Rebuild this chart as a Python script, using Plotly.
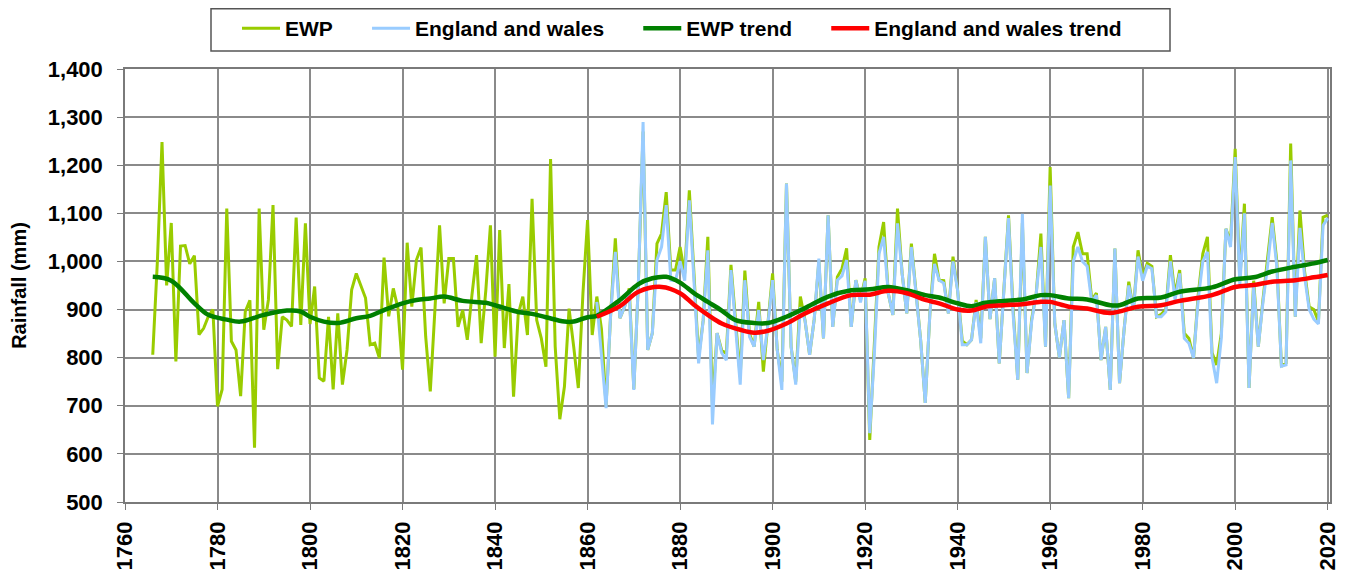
import plotly.graph_objects as go

ewp_start = 1766
ewp_values = [
    806, 1000, 1248, 950, 1080, 792, 1032, 1033, 995, 1012,   # 1766-1775
    848, 861, 885, 900, 699, 734, 1110, 834, 816, 720,        # 1776-1785
    896, 919, 613, 1110, 858, 920, 1117, 776, 885, 878,       # 1786-1795
    865, 1091, 868, 1079, 870, 948, 758, 751, 885, 734,       # 1796-1805
    892, 744, 816, 941, 975, 948, 924, 827, 830, 799,         # 1806-1815
    1008, 886, 944, 903, 775, 1039, 906, 1003, 1029, 844,     # 1816-1825
    730, 900, 1075, 913, 1006, 1006, 864, 899, 837, 930,      # 1826-1835
    1013, 830, 940, 1075, 802, 1065, 820, 953, 719, 890,      # 1836-1845
    927, 847, 1130, 878, 840, 781, 1213, 823, 672, 740,       # 1846-1855
    902, 823, 737, 934, 1086, 847, 927, 860, 700, 892,        # 1856-1865
    1048, 882, 906, 944, 735, 960, 1270, 816, 851, 1037,      # 1866-1875
    1058, 1144, 982, 982, 1030, 975, 1148, 975, 800, 878,     # 1876-1885
    1051, 700, 851, 815, 809, 993, 880, 760, 981, 850,        # 1886-1895
    823, 916, 771, 880, 975, 816, 750, 1162, 823, 750,        # 1896-1905
    927, 878, 806, 880, 1000, 840, 1096, 864, 968, 985,       # 1906-1915
    1027, 864, 961, 920, 965, 629, 815, 1030, 1082, 934,      # 1916-1925
    889, 1110, 975, 892, 1037, 940, 837, 706, 892, 1016,      # 1926-1935
    961, 960, 892, 1010, 940, 835, 827, 837, 920, 840,        # 1936-1945
    1051, 880, 965, 788, 940, 1096, 900, 754, 1080, 768,      # 1946-1955
    880, 934, 1058, 823, 1196, 871, 800, 878, 716, 1030,      # 1956-1965
    1061, 1016, 1016, 920, 934, 795, 864, 733, 1027, 747,     # 1966-1975
    860, 958, 899, 1023, 968, 996, 990, 885, 890, 900,        # 1976-1985
    1013, 930, 982, 851, 840, 799, 930, 1016, 1051, 810,      # 1986-1995
    785, 850, 1068, 1041, 1234, 960, 1120, 737, 960, 823,     # 1996-2005
    920, 1000, 1092, 1000, 782, 789, 1245, 885, 1106, 980,    # 2006-2015
    906, 900, 875, 1092, 1096,                                # 2016-2020
]
ewp_years = list(range(ewp_start, ewp_start + len(ewp_values)))

ew_start = 1862
ew_values = [
    916, 809, 695, 892,                                       # 1862-1865
    1020, 882, 906, 935, 733, 960, 1290, 816, 851, 1003,      # 1866-1875
    1030, 1117, 961, 960, 1000, 960, 1127, 960, 788, 878,     # 1876-1885
    1023, 661, 851, 810, 795, 982, 870, 744, 961, 844,        # 1886-1895
    823, 899, 795, 870, 961, 816, 733, 1162, 823, 744,        # 1896-1905
    905, 878, 806, 880, 1006, 840, 1096, 864, 961, 970,       # 1906-1915
    1003, 864, 961, 915, 960, 643, 809, 1016, 1051, 934,      # 1916-1925
    889, 1079, 975, 892, 1030, 940, 837, 706, 892, 995,       # 1926-1935
    961, 955, 892, 1000, 940, 827, 827, 837, 915, 830,        # 1936-1945
    1051, 880, 965, 788, 930, 1090, 890, 754, 1099, 768,      # 1946-1955
    875, 934, 1030, 823, 1158, 871, 800, 878, 716, 1000,      # 1956-1965
    1030, 1000, 990, 915, 930, 795, 864, 733, 1027, 747,      # 1966-1975
    860, 950, 899, 1010, 960, 990, 985, 885, 885, 895,        # 1976-1985
    1000, 920, 975, 840, 830, 799, 920, 1000, 1020, 800,      # 1986-1995
    747, 840, 1068, 1030, 1217, 950, 1100, 737, 950, 823,     # 1996-2005
    915, 990, 1080, 990, 782, 785, 1210, 885, 1070, 970,      # 2006-2015
    900, 880, 870, 1075, 1090,                                # 2016-2020
]
ew_years = list(range(ew_start, ew_start + len(ew_values)))

ewp_trend_years = [1766, 1770, 1775, 1778, 1782, 1785, 1790, 1795, 1798, 1800,
                   1803, 1806, 1810, 1813, 1816, 1820, 1823, 1826, 1829, 1833,
                   1838, 1840, 1845, 1848, 1851, 1855, 1857, 1860, 1862, 1867,
                   1871, 1874, 1877, 1880, 1883, 1886, 1889, 1892, 1896, 1899,
                   1903, 1907, 1912, 1917, 1921, 1925, 1929, 1933, 1936, 1940,
                   1943, 1946, 1950, 1954, 1958, 1960, 1964, 1968, 1973, 1975,
                   1979, 1984, 1988, 1995, 2000, 2004, 2008, 2013, 2017, 2020]
ewp_trend_values = [968, 960, 913, 889, 879, 875, 889, 898, 896, 885,
                    875, 872, 882, 887, 899, 913, 920, 923, 927, 918,
                    914, 909, 895, 891, 884, 875, 875, 884, 887, 920,
                    953, 965, 968, 956, 934, 916, 898, 878, 872, 872,
                    885, 903, 927, 940, 942, 947, 940, 930, 925, 913,
                    907, 914, 918, 921, 930, 930, 923, 921, 909, 909,
                    923, 925, 937, 946, 963, 967, 979, 989, 996, 1003]

ew_trend_years = [1862, 1867, 1871, 1876, 1880, 1883, 1886, 1889, 1893, 1896,
                  1899, 1903, 1907, 1912, 1917, 1921, 1925, 1929, 1933, 1936,
                  1940, 1943, 1946, 1950, 1954, 1958, 1960, 1964, 1968, 1973,
                  1979, 1984, 1988, 1995, 2000, 2004, 2008, 2013, 2017, 2020]
ew_trend_values = [885, 907, 937, 947, 934, 910, 889, 871, 858, 852,
                   856, 871, 892, 913, 930, 931, 939, 934, 920, 913,
                   900, 898, 906, 909, 911, 916, 916, 906, 902, 893,
                   906, 909, 918, 930, 947, 951, 958, 961, 967, 972]

x_ticks = list(range(1760, 2021, 20))
y_ticks = list(range(500, 1401, 100))

FONT = "Liberation Sans, Arial"
PAD = "\u00a0" * 5

# page body has an 8px margin, so the figure is sized to the remaining area
W, H = 1338, 569
ML, MR, MT, MB = 117, 16, 61, 75
PW = W - ML - MR
PH = H - MT - MB


def px_x(fx):
    return (fx - ML) / PW


def px_y(fy):
    return (H - MB - fy) / PH


fig = go.Figure()
fig.add_trace(go.Scatter(x=ewp_years, y=ewp_values, mode="lines", name="<b>EWP</b>" + PAD,
                         line=dict(color="#99CC00", width=3)))
fig.add_trace(go.Scatter(x=ew_years, y=ew_values, mode="lines", name="<b>England and wales</b>" + PAD,
                         line=dict(color="#99CCFF", width=3)))
fig.add_trace(go.Scatter(x=ewp_trend_years, y=ewp_trend_values, mode="lines",
                         name="<b>EWP trend</b>" + PAD,
                         line=dict(color="#008000", width=4.5, shape="spline")))
fig.add_trace(go.Scatter(x=ew_trend_years, y=ew_trend_values, mode="lines",
                         name="<b>England and wales trend</b>",
                         line=dict(color="#FF0000", width=4.5, shape="spline")))

fig.add_shape(type="rect", xref="paper", yref="paper",
              x0=px_x(203), x1=px_x(1162), y0=px_y(43), y1=px_y(0.75),
              line=dict(color="#555555", width=1.5), fillcolor="rgba(0,0,0,0)")

fig.update_layout(
    width=W, height=H,
    margin=dict(l=ML, r=MR, t=MT, b=MB),
    paper_bgcolor="white", plot_bgcolor="white",
    font=dict(family=FONT, color="black"),
    showlegend=True,
    legend=dict(orientation="h", xref="container", yref="container",
                x=229 / W, xanchor="left", y=1.0, yanchor="top",
                borderwidth=0, bgcolor="rgba(0,0,0,0)",
                font=dict(size=21, family=FONT, color="black"),
                itemwidth=38, tracegroupgap=0),
    xaxis=dict(range=[1760, 2020.5], tickvals=x_ticks, ticktext=[f"<b>{v}</b>" for v in x_ticks],
               tickangle=-90, tickfont=dict(size=22, family=FONT),
               showgrid=True, gridcolor="#8a8a8a", gridwidth=1.5,
               showline=True, linecolor="#7a7a7a", linewidth=1.5, mirror=True,
               ticks="outside", ticklen=6, tickcolor="#7a7a7a", zeroline=False,
               ticklabelstandoff=3, automargin=False),
    yaxis=dict(range=[500, 1400], tickvals=y_ticks,
               ticktext=[f"<b>{v:,}</b>" for v in y_ticks],
               tickfont=dict(size=22, family=FONT),
               showgrid=True, gridcolor="#8a8a8a", gridwidth=1.5,
               showline=True, linecolor="#7a7a7a", linewidth=1.5, mirror=True,
               ticks="outside", ticklen=6, tickcolor="#7a7a7a", zeroline=False,
               ticklabelstandoff=10, automargin=False,
               title=dict(text="<b>Rainfall (mm)</b>", font=dict(size=20, family=FONT),
                          standoff=22)),
)

fig.write_html("out.html")
